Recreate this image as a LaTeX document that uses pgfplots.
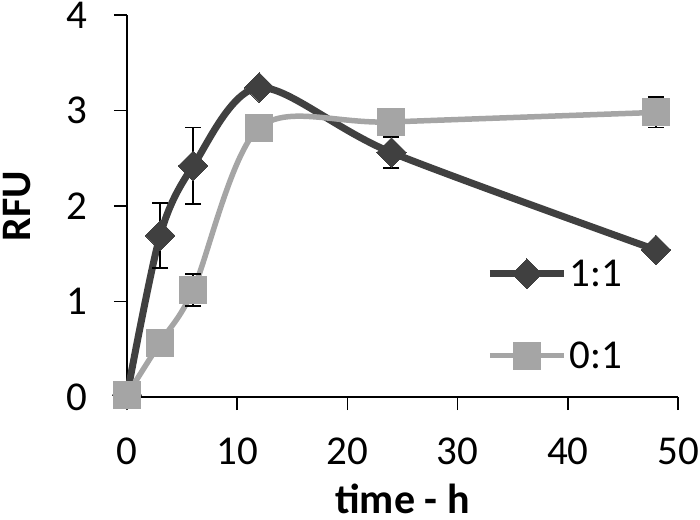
\documentclass[border=0pt]{standalone}
\usepackage{pgfplots}
\pgfplotsset{compat=1.18}
\usepackage{fontspec}
\setmainfont{Carlito}
\definecolor{dk}{HTML}{404040}
\definecolor{lt}{HTML}{A5A5A5}
\begin{document}
\begin{tikzpicture}
\path[use as bounding box] (-127pt,-122pt) rectangle (573pt,397pt);
\begin{axis}[
  scale only axis, width=551pt, height=382pt,
  xmin=0, xmax=50, ymin=0, ymax=4,
  xtick={0,10,...,50}, ytick={0,1,2,3,4},
  axis lines*=left,
  axis line style={black, line width=1.6pt},
  tick style={black, line width=1.6pt},
  tick align=outside, major tick length=13pt,
  /pgf/number format/assume math mode=true,
  tick label style={font=\fontsize{41}{46}\selectfont, inner sep=2pt},
  xticklabel style={anchor=north, yshift=-26pt},
  yticklabel style={anchor=east, xshift=-25pt},
  xlabel={\textbf{time - h}}, ylabel={\textbf{RFU}},
  label style={font=\fontsize{42}{46}\selectfont, inner sep=0pt},
  xlabel style={at={(0.5,-0.306)}, anchor=base},
  ylabel style={at={(-0.2,0.5)}, anchor=center},
  clip=false,
  legend style={draw=none, fill=none, at={(axis cs:32.6,1.46)}, anchor=north west,
    font=\fontsize{41}{46}\selectfont, row sep=50pt, inner sep=0pt},
  legend cell align=left,
  legend image code/.code={\draw[#1, mark repeat=2, mark phase=2] plot coordinates {(0pt,0pt) (37pt,0pt) (74pt,0pt)};},
]
\addplot[dk, line width=7pt, smooth, tension=0.5, mark=square*, mark size=10.5pt,
  mark options={rotate=45, fill=dk, draw=dk, line width=0pt},
  error bars/.cd, y dir=both, y explicit,
  error bar style={black, line width=1.6pt},
  error mark options={black, rotate=90, mark size=8pt, line width=1.6pt}]
  coordinates {
  (0,0.02) +- (0,0)
  (3,1.69) +- (0,0.34)
  (6,2.42) +- (0,0.40)
  (12,3.24) +- (0,0.04)
  (24,2.56) +- (0,0.16)
  (48,1.54) +- (0,0.05)
  };
\addlegendentry{1:1}
\addplot[lt, line width=5.5pt, smooth, tension=0.5, mark=square*, mark size=13.5pt,
  mark options={fill=lt, draw=lt, line width=0pt},
  error bars/.cd, y dir=both, y explicit,
  error bar style={black, line width=1.6pt},
  error mark options={black, rotate=90, mark size=8pt, line width=1.6pt}]
  coordinates {
  (0,0.02) +- (0,0)
  (3,0.57) +- (0,0.05)
  (6,1.12) +- (0,0.17)
  (12,2.82) +- (0,0.05)
  (24,2.88) +- (0,0.08)
  (48,2.98) +- (0,0.16)
  };
\addlegendentry{0:1}
\end{axis}
\end{tikzpicture}
\end{document}
